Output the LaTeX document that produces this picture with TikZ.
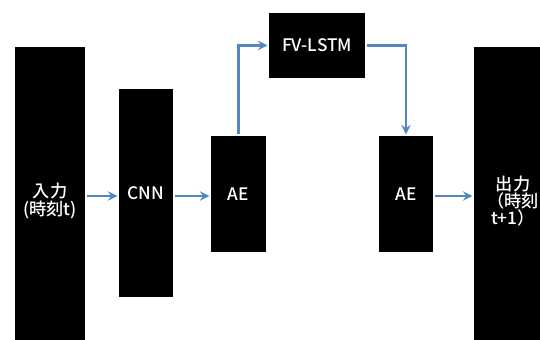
\documentclass[tikz,border=0pt]{standalone}
\usepackage{fontspec}
\setmainfont{Noto Sans CJK JP}[BoldFont={Noto Sans CJK JP Medium}]
\usepackage{xcolor}
\usepackage{tikz}
\usetikzlibrary{shadows}
\definecolor{linkblue}{RGB}{84,134,194}
\tikzstyle{block} = [rectangle, draw=white, line width=0.6pt, fill=black, text=white, align=center, inner sep=0pt, font=\fontsize{9.8}{9.8}\selectfont\bfseries, drop shadow={opacity=0.35, shadow xshift=0.6pt, shadow yshift=-0.6pt}]
\tikzstyle{arrow} = [draw=linkblue, line width=1.4pt, ->, >=stealth]

\begin{document}
\begin{tikzpicture}[x=0.02cm, y=-0.02cm]

	\clip (0,0) rectangle (540,340);
	\fill[white] (0,0) rectangle (540,340);

	\node (input) [block, minimum width=1.44cm, minimum height=6.2cm] at (50,201) {入力\\(時刻t)};
	\node (cnn) [block, minimum width=1.12cm, minimum height=4.2cm] at (146,193) {CNN};
	\node (enc) [block, minimum width=1.14cm, minimum height=2.36cm] at (238.5,194) {AE};
	\node (lstm) [block, minimum width=1.96cm, minimum height=1.34cm] at (317,45.5) {FV-LSTM};
	\node (dec) [block, minimum width=1.12cm, minimum height=2.36cm] at (406,194) {AE};
	\node (output) [block, minimum width=1.6cm, minimum height=6.2cm] at (513,201) {出力\\（時刻\\t+1）};

	\draw [arrow] (input.east |- 0,196) -- (cnn.west |- 0,196);
	\draw [arrow] (cnn.east |- 0,196) -- (enc.west |- 0,196);
	\draw [arrow] (enc.north) |- (lstm.west);
	\draw [arrow] (lstm.east) -| (dec.north);
	\draw [arrow] (dec.east |- 0,196) -- (output.west |- 0,196);

\end{tikzpicture}
\end{document}
